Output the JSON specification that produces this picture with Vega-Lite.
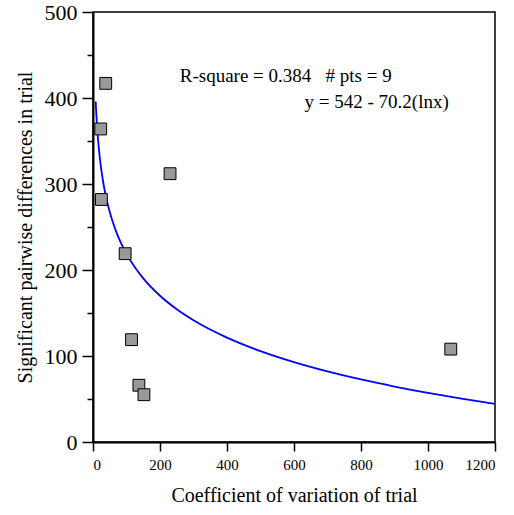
{
  "$schema": "https://vega.github.io/schema/vega-lite/v6.json",
  "width": 402,
  "height": 430,
  "autosize": {"type": "none"},
  "padding": {"left": 93, "top": 12, "right": 19, "bottom": 73},
  "background": "white",
  "config": {
    "view": {"stroke": "black", "strokeWidth": 1.5},
    "font": "Liberation Serif"
  },
  "datasets": {
    "pts": [
      {"cv": 38, "sig": 417},
      {"cv": 23, "sig": 364},
      {"cv": 25, "sig": 282},
      {"cv": 230, "sig": 312},
      {"cv": 96, "sig": 219},
      {"cv": 115, "sig": 119},
      {"cv": 137, "sig": 66},
      {"cv": 152, "sig": 55},
      {"cv": 1068, "sig": 108}
    ],
    "fit": [
      {"cv": 8, "sig": 396.0}, {"cv": 9, "sig": 387.8}, {"cv": 10, "sig": 380.4},
      {"cv": 12, "sig": 367.6}, {"cv": 15, "sig": 351.9}, {"cv": 20, "sig": 331.7},
      {"cv": 25, "sig": 316.0}, {"cv": 30, "sig": 303.2}, {"cv": 35, "sig": 292.4},
      {"cv": 40, "sig": 283.0}, {"cv": 50, "sig": 267.4}, {"cv": 60, "sig": 254.6},
      {"cv": 75, "sig": 238.9}, {"cv": 100, "sig": 218.7}, {"cv": 125, "sig": 203.1},
      {"cv": 150, "sig": 190.3}, {"cv": 200, "sig": 170.1}, {"cv": 250, "sig": 154.4},
      {"cv": 300, "sig": 141.6}, {"cv": 400, "sig": 121.4}, {"cv": 500, "sig": 105.7},
      {"cv": 600, "sig": 92.9}, {"cv": 700, "sig": 82.1}, {"cv": 800, "sig": 72.7},
      {"cv": 900, "sig": 64.5}, {"cv": 1000, "sig": 57.1}, {"cv": 1100, "sig": 50.4},
      {"cv": 1200, "sig": 44.3}
    ],
    "note1": [
      {"cv": 259, "sig": 426, "label": "R-square = 0.384 \u00a0 # pts = 9"}
    ],
    "note2": [
      {"cv": 1062, "sig": 395, "label": "y = 542 - 70.2(lnx)"}
    ]
  },
  "layer": [
    {
      "data": {"name": "fit"},
      "mark": {"type": "line", "color": "#0000ff", "strokeWidth": 1.8, "interpolate": "monotone", "clip": true},
      "encoding": {
        "x": {
          "field": "cv", "type": "quantitative",
          "scale": {"domain": [0, 1200], "nice": false},
          "axis": {
            "values": [0, 200, 400, 600, 800, 1000, 1200],
            "format": "d",
            "title": "Coefficient of variation of trial",
            "titleFont": "Liberation Serif", "titleFontSize": 20, "titleFontWeight": "normal",
            "titleColor": "black", "titlePadding": 13,
            "labelFont": "Liberation Serif", "labelFontSize": 15, "labelColor": "black",
            "labelPadding": 6, "tickSize": 9, "tickColor": "black", "tickWidth": 1.5,
            "domainColor": "black", "domainWidth": 2, "grid": false
          }
        },
        "y": {
          "field": "sig", "type": "quantitative",
          "scale": {"domain": [0, 500], "nice": false},
          "axis": {
            "values": [0, 50, 100, 150, 200, 250, 300, 350, 400, 450, 500],
            "labelExpr": "datum.value % 100 === 0 ? datum.label : ''",
            "tickSize": {"condition": {"test": "datum.value % 100 === 0", "value": 11}, "value": 6},
            "title": "Significant pairwise differences in trial",
            "titleFont": "Liberation Serif", "titleFontSize": 20, "titleFontWeight": "normal",
            "titleColor": "black", "titlePadding": 9,
            "labelFont": "Liberation Serif", "labelFontSize": 22, "labelColor": "black",
            "labelPadding": 5, "tickColor": "black", "tickWidth": 1.5,
            "domainColor": "black", "domainWidth": 2, "grid": false
          }
        }
      }
    },
    {
      "data": {"name": "pts"},
      "mark": {"type": "square", "size": 140, "fill": "#999999", "fillOpacity": 1, "stroke": "black", "strokeWidth": 1},
      "encoding": {
        "x": {"field": "cv", "type": "quantitative"},
        "y": {"field": "sig", "type": "quantitative"}
      }
    },
    {
      "data": {"name": "note1"},
      "mark": {"type": "text", "fontSize": 19, "font": "Liberation Serif", "color": "black", "baseline": "middle", "align": "left"},
      "encoding": {
        "x": {"field": "cv", "type": "quantitative"},
        "y": {"field": "sig", "type": "quantitative"},
        "text": {"field": "label"}
      }
    },
    {
      "data": {"name": "note2"},
      "mark": {"type": "text", "fontSize": 19, "font": "Liberation Serif", "color": "black", "baseline": "middle", "align": "right"},
      "encoding": {
        "x": {"field": "cv", "type": "quantitative"},
        "y": {"field": "sig", "type": "quantitative"},
        "text": {"field": "label"}
      }
    }
  ]
}
